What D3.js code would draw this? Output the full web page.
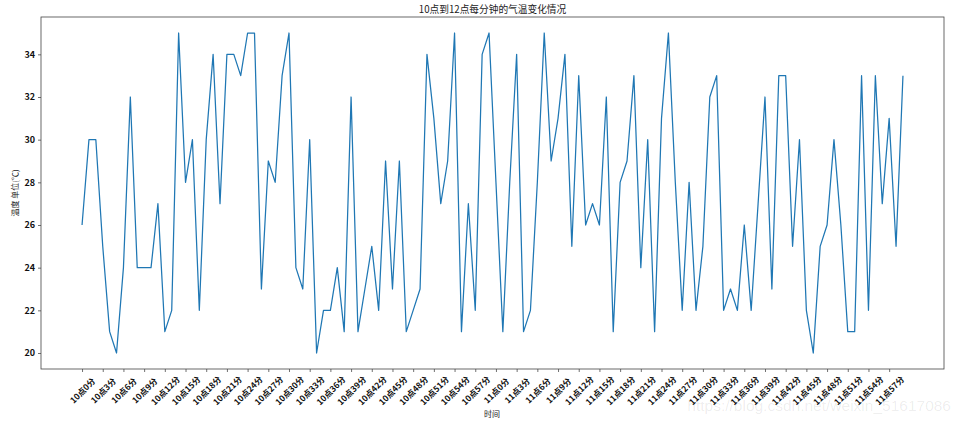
<!DOCTYPE html>
<html>
<head>
<meta charset="utf-8">
<script src="https://cdn.jsdelivr.net/npm/d3@7/dist/d3.min.js"></script>
<style>
html,body{margin:0;padding:0;background:#fff;overflow:hidden;}
svg{display:block;}
text{font-family:"Noto Sans CJK SC","Noto Sans",sans-serif;}
</style>
</head>
<body>
<svg id="chart" width="960" height="425"></svg>
<script>
const temperatures = [26,30,30,25,21,20,24,32,24,24,24,27,21,22,35,28,30,22,30,34,
  27,34,34,33,35,35,23,29,28,33,35,24,23,30,20,22,22,24,21,32,
  21,23,25,22,29,23,29,21,22,23,34,31,27,29,35,21,27,22,34,35,
  28,21,28,34,21,22,28,35,29,31,34,25,33,26,27,26,32,21,28,29,
  33,24,30,21,31,35,28,22,28,22,25,32,33,22,23,22,26,22,27,32,
  23,33,33,25,30,22,20,25,26,30,26,21,21,33,22,33,27,31,25,33];
const tickPositions = [0,3,6,9,12,15,18,21,24,27,30,33,36,39,42,45,48,51,54,57,
  60,63,66,69,72,75,78,81,84,87,90,93,96,99,102,105,108,111,114,117];
const tickLabels = ["10点0分","10点3分","10点6分","10点9分","10点12分","10点15分","10点18分","10点21分","10点24分","10点27分",
  "10点30分","10点33分","10点36分","10点39分","10点42分","10点45分","10点48分","10点51分","10点54分","10点57分",
  "11点0分","11点3分","11点6分","11点9分","11点12分","11点15分","11点18分","11点21分","11点24分","11点27分",
  "11点30分","11点33分","11点36分","11点39分","11点42分","11点45分","11点48分","11点51分","11点54分","11点57分"];
const yTicks = [20,22,24,26,28,30,32,34];
const titleText = "10点到12点每分钟的气温变化情况";
const xTitle = "时间";
const yTitle = "温度 单位(℃)";
const watermark = "https://blog.csdn.net/weixin_51617086";

const plotLeft = 41, plotRight = 944, plotTop = 17, plotBottom = 369;
const svg = d3.select("#chart");
const x = d3.scaleLinear().domain([-5.95, 124.95]).range([plotLeft, plotRight]);
const y = d3.scaleLinear().domain([19.25, 35.75]).range([plotBottom, plotTop]);

svg.append("text").attr("x", 951).attr("y", 411).attr("text-anchor", "end")
  .attr("font-size", 15.5).attr("fill", "#000").attr("fill-opacity", 0.08)
  .style("font-family", "'Liberation Sans',sans-serif").text(watermark);

const xAxis = svg.append("g").attr("transform", `translate(0,${plotBottom})`)
  .call(d3.axisBottom(x).tickValues(tickPositions)
    .tickFormat((d, i) => tickLabels[i]).tickSize(3).tickSizeOuter(0));
xAxis.select(".domain").remove();
xAxis.selectAll("line").attr("stroke", "#333").attr("stroke-width", 0.7);
xAxis.selectAll("text")
  .attr("font-size", 8.4).attr("font-weight", 700).attr("fill", "#111")
  .attr("text-anchor", "middle").attr("dy", null).attr("y", 0)
  .attr("dominant-baseline", "central")
  .attr("transform", "translate(-0.5,21) rotate(-45)");

const yAxis = svg.append("g").attr("transform", `translate(${plotLeft},0)`)
  .call(d3.axisLeft(y).tickValues(yTicks).tickFormat(d3.format("d")).tickSize(3).tickSizeOuter(0));
yAxis.select(".domain").remove();
yAxis.selectAll("line").attr("stroke", "#333").attr("stroke-width", 0.7);
yAxis.selectAll("text").attr("font-size", 9).attr("font-weight", 700).attr("fill", "#111");

svg.append("path")
  .datum(temperatures)
  .attr("fill", "none").attr("stroke", "#1f77b4").attr("stroke-width", 1.25)
  .attr("stroke-linejoin", "round")
  .attr("d", d3.line().x((d, i) => x(i)).y(d => y(d)));

svg.append("rect").attr("x", plotLeft).attr("y", plotTop)
  .attr("width", plotRight - plotLeft).attr("height", plotBottom - plotTop)
  .attr("fill", "none").attr("stroke", "#444").attr("stroke-width", 0.8);

svg.append("text").attr("x", (plotLeft + plotRight) / 2).attr("y", 13).attr("text-anchor", "middle")
  .attr("font-size", 9.7).attr("fill", "#222").text(titleText);
svg.append("text").attr("x", 492).attr("y", 417).attr("text-anchor", "middle")
  .attr("font-size", 8).attr("fill", "#222").text(xTitle);
svg.append("text").attr("transform", "translate(18,193) rotate(-90)").attr("text-anchor", "middle")
  .attr("font-size", 8).attr("fill", "#222").text(yTitle);
</script>
</body>
</html>
